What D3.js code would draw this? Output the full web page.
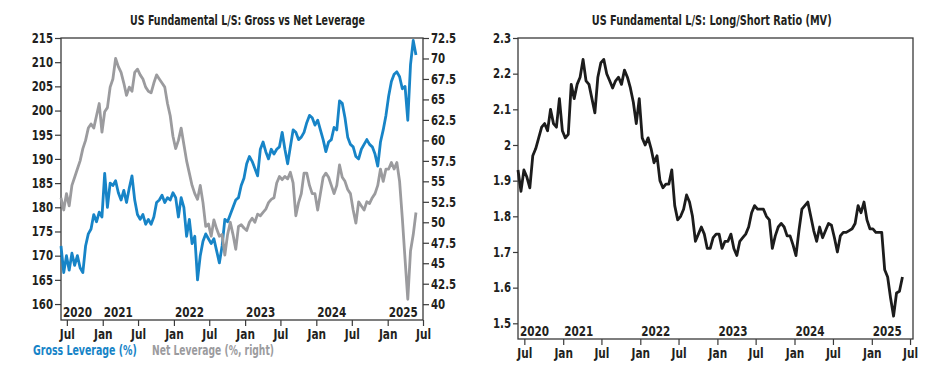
<!DOCTYPE html>
<html>
<head>
<meta charset="utf-8">
<script src="https://cdn.jsdelivr.net/npm/d3@7"></script>
<style>
  body { margin: 0; background: #fff; }
  svg text { font-family: "Liberation Sans Narrow", "DejaVu Sans Condensed", "Arial Narrow", sans-serif; font-weight: bold; fill: #231f20; }
</style>
</head>
<body>
<script>
// data, one value every two weeks from 1 Jun 2020
var startDate = new Date(2020, 5, 1);
var stepDays = 14;

var grossLeverage = [172, 166.5, 170, 167, 170.5, 168, 170, 167.5, 166.5, 172, 174.5, 175.5, 178.5, 177, 179, 178, 187, 180, 185, 184.5,
  185.5, 183, 181.5, 183.5, 181, 184, 186.5, 181.5, 178.5, 177.5, 178.5, 176.5, 177.5, 176.5, 178, 181, 181.5, 182.5, 181, 182,
  181.5, 183, 182, 178, 182, 180, 174, 177.5, 172.5, 174, 165, 170, 173, 174.5, 173.5, 172.5, 173.5, 171, 168.5, 172,
  177.5, 177, 178.5, 180, 181.5, 182, 184.5, 186, 189, 190.5, 189.5, 188, 186.5, 192, 193.5, 191.5, 190, 192, 191, 192,
  192.5, 195.5, 192, 189, 192.5, 196, 195.5, 194, 194.5, 195.5, 197.5, 199, 198.5, 197, 198, 196, 194, 191.5, 193.5, 194,
  196.5, 196, 202, 201.5, 198.5, 194.5, 193, 192.5, 190.5, 190, 192, 193, 194, 193, 192.5, 191, 188.5, 193.5, 196, 199,
  203, 206, 207.5, 208, 207, 204.5, 205, 198, 209.5, 214.5, 211.5];

var netLeverage = [53, 51.5, 53.5, 52, 54.5, 55.5, 56.5, 57.5, 59, 60, 61.5, 62, 61.5, 63, 64.5, 61, 63.5, 64, 66.5, 67.5,
  70, 69, 68.3, 67, 65.5, 66.5, 66, 68.3, 68.7, 68, 67.5, 66.5, 66, 65.8, 67, 68, 67.5, 67, 66.5, 64.5,
  63, 60.5, 59, 60, 61.5, 59.5, 57.5, 56, 54.5, 53.5, 52.8, 54.5, 52.4, 49.5, 49.8, 48.3, 50.3, 49.2, 48.3, 48.5,
  46, 48.5, 50, 48.5, 46.7, 49.5, 49.7, 49.3, 49, 50, 50.5, 50, 51, 50.8, 51.2, 51.6, 52.4, 52.8, 53, 54.8,
  55.6, 55.2, 55.6, 55.3, 56.1, 54.8, 50.8, 52.4, 53.5, 56, 56, 54.5, 53.5, 53.5, 51.5, 53.5, 55.5, 56, 55.5, 54.5,
  53.5, 54.5, 57, 55.5, 55, 54, 53.5, 51.5, 49.9, 52.5, 52, 51.5, 52.5, 52.3, 53, 53.5, 54.5, 56.5, 55, 56.5,
  56.5, 57.3, 56.5, 57.3, 55, 50.5, 45.5, 40.6, 46.5, 48.5, 51.2];

var longShortRatio = [1.93, 1.87, 1.93, 1.91, 1.88, 1.97, 1.99, 2.02, 2.05, 2.06, 2.04, 2.10, 2.06, 2.05, 2.13, 2.04, 2.02, 2.03, 2.17, 2.13,
  2.17, 2.19, 2.24, 2.18, 2.17, 2.13, 2.09, 2.19, 2.23, 2.24, 2.20, 2.18, 2.16, 2.18, 2.19, 2.17, 2.21, 2.19, 2.16, 2.12,
  2.06, 2.13, 2.02, 2.00, 2.02, 1.99, 1.95, 1.97, 1.90, 1.88, 1.89, 1.89, 1.93, 1.83, 1.79, 1.80, 1.82, 1.86, 1.84, 1.80,
  1.73, 1.75, 1.77, 1.75, 1.71, 1.71, 1.74, 1.75, 1.75, 1.71, 1.73, 1.73, 1.75, 1.71, 1.69, 1.73, 1.74, 1.75, 1.77, 1.81,
  1.83, 1.82, 1.82, 1.82, 1.80, 1.79, 1.71, 1.745, 1.77, 1.78, 1.77, 1.745, 1.745, 1.72, 1.69, 1.76, 1.82, 1.83, 1.84, 1.80,
  1.76, 1.73, 1.77, 1.74, 1.76, 1.78, 1.775, 1.74, 1.70, 1.745, 1.755, 1.755, 1.76, 1.765, 1.78, 1.83, 1.81, 1.84, 1.79, 1.765,
  1.765, 1.755, 1.755, 1.755, 1.65, 1.63, 1.57, 1.52, 1.585, 1.59, 1.63];

var grossTicks = [160, 165, 170, 175, 180, 185, 190, 195, 200, 205, 210, 215];
var netTicks = [40, 42.5, 45, 47.5, 50, 52.5, 55, 57.5, 60, 62.5, 65, 67.5, 70, 72.5];
var ratioTicks = [1.5, 1.6, 1.7, 1.8, 1.9, 2.0, 2.1, 2.2, 2.3];
var yearLabels = ["2020", "2021", "2022", "2023", "2024", "2025"];
var monthTicks = [];
for (var yr = 2020; yr <= 2025; yr++) {
  if (yr > 2020) monthTicks.push(new Date(yr, 0, 1));
  monthTicks.push(new Date(yr, 6, 1));
}

var dates = grossLeverage.map(function(d, i) { return d3.timeDay.offset(startDate, i * stepDays); });

var blue = "#1784c7", grey = "#9b9b9e", black = "#1c1c1c", axisCol = "#3a3a3a";
var fmt = d3.format("");

var svg = d3.select("body").append("svg")
  .attr("width", 950).attr("height", 372);
svg.append("rect").attr("width", 950).attr("height", 372).attr("fill", "#fff");

// the source font is a narrow one, so squeeze texts sideways round their anchor point
function condense(sel, f) {
  sel.each(function() {
    var t = d3.select(this);
    var x = +t.attr("x") || 0, y = +t.attr("y") || 0;
    var k = typeof f == "function" ? f(this.getComputedTextLength()) : f;
    t.attr("x", 0).attr("y", 0)
      .attr("transform", "translate(" + x + "," + y + ") scale(" + k + ",1)");
  });
}
function fitTo(w) { return function(len) { return w / len; }; }

function styleAxis(g, size) {
  g.selectAll(".domain").remove();
  g.selectAll(".tick line").attr("stroke", axisCol).attr("stroke-width", 1.2);
  g.selectAll("text").attr("font-size", size || 13.5).attr("fill", "#231f20");
  condense(g.selectAll("text"), 0.84);
}

function drawFrame(g, box) {
  g.append("rect")
    .attr("x", box.left).attr("y", box.top)
    .attr("width", box.right - box.left).attr("height", box.bottom - box.top)
    .attr("fill", "none").attr("stroke", axisCol).attr("stroke-width", 1.3);
}

function drawTimeAxis(g, x, box) {
  var ax = g.append("g")
    .attr("transform", "translate(0," + box.bottom + ")")
    .call(d3.axisBottom(x).tickValues(monthTicks).tickFormat(d3.timeFormat("%b")).tickSize(6).tickPadding(3));
  styleAxis(ax, 14);

  // year labels sit inside the plot on the bottom edge
  var yl = g.selectAll(".year").data(yearLabels).enter().append("text")
    .attr("class", "year")
    .attr("x", function(d, i) { return i == 0 ? box.left + 2 : x(new Date(+d, 0, 1)) + 1; })
    .attr("y", box.bottom - 3)
    .attr("font-size", 14.5)
    .text(function(d) { return d; });
  condense(yl, 0.8);
}

function addText(g, x, y, width, str, color, anchor) {
  var t = g.append("text").attr("x", x).attr("y", y)
    .attr("text-anchor", anchor || "start").attr("font-size", anchor ? 13.5 : 14)
    .style("fill", color || "#231f20").text(str);
  condense(t, fitTo(width));
  return t;
}

// ---------- left chart: gross vs net leverage ----------
var L = {left: 61, right: 423, top: 38, bottom: 320};
var left = svg.append("g");

var xL = d3.scaleTime().domain([new Date(2020, 5, 1), new Date(2025, 6, 1)]).range([L.left, L.right]);
var yGross = d3.scaleLinear().domain([156.7, 215]).range([L.bottom, L.top]);
var yNet = d3.scaleLinear().domain([38.07, 72.5]).range([L.bottom, L.top]);

addText(left, 247.5, 25, 235, "US Fundamental L/S: Gross vs Net Leverage", null, "middle");

var axG = left.append("g").attr("transform", "translate(" + L.left + ",0)")
  .call(d3.axisLeft(yGross).tickValues(grossTicks).tickSize(6).tickPadding(2));
styleAxis(axG);
var axN = left.append("g").attr("transform", "translate(" + L.right + ",0)")
  .call(d3.axisRight(yNet).tickValues(netTicks).tickFormat(fmt).tickSize(6).tickPadding(2));
styleAxis(axN);

drawFrame(left, L);
drawTimeAxis(left, xL, L);

var lineGross = d3.line().x(function(d, i) { return xL(dates[i]); }).y(function(d) { return yGross(d); });
var lineNet = d3.line().x(function(d, i) { return xL(dates[i]); }).y(function(d) { return yNet(d); });

left.append("path").datum(grossLeverage).attr("d", lineGross)
  .attr("fill", "none").attr("stroke", blue).attr("stroke-width", 2.8).attr("stroke-linejoin", "round");
left.append("path").datum(netLeverage).attr("d", lineNet)
  .attr("fill", "none").attr("stroke", grey).attr("stroke-width", 2.8).attr("stroke-linejoin", "round");

// legend
addText(left, 33, 355, 104, "Gross Leverage (%)", blue);
addText(left, 152, 355, 122, "Net Leverage (%, right)", grey);

// ---------- right chart: long/short ratio ----------
var R = {left: 518, right: 913, top: 38, bottom: 339};
var right = svg.append("g");

var xR = d3.scaleTime().domain([new Date(2020, 5, 1), new Date(2025, 6, 15)]).range([R.left, R.right]);
var yRatio = d3.scaleLinear().domain([1.456, 2.3]).range([R.bottom, R.top]);

addText(right, 711.7, 25, 240, "US Fundamental L/S: Long/Short Ratio (MV)", null, "middle");

var axR = right.append("g").attr("transform", "translate(" + R.left + ",0)")
  .call(d3.axisLeft(yRatio).tickValues(ratioTicks).tickSize(5).tickPadding(2).tickFormat(fmt));
styleAxis(axR);

drawFrame(right, R);
drawTimeAxis(right, xR, R);

var lineRatio = d3.line().x(function(d, i) { return xR(dates[i]); }).y(function(d) { return yRatio(d); });
right.append("path").datum(longShortRatio).attr("d", lineRatio)
  .attr("fill", "none").attr("stroke", black).attr("stroke-width", 2.8).attr("stroke-linejoin", "round");
</script>
</body>
</html>
